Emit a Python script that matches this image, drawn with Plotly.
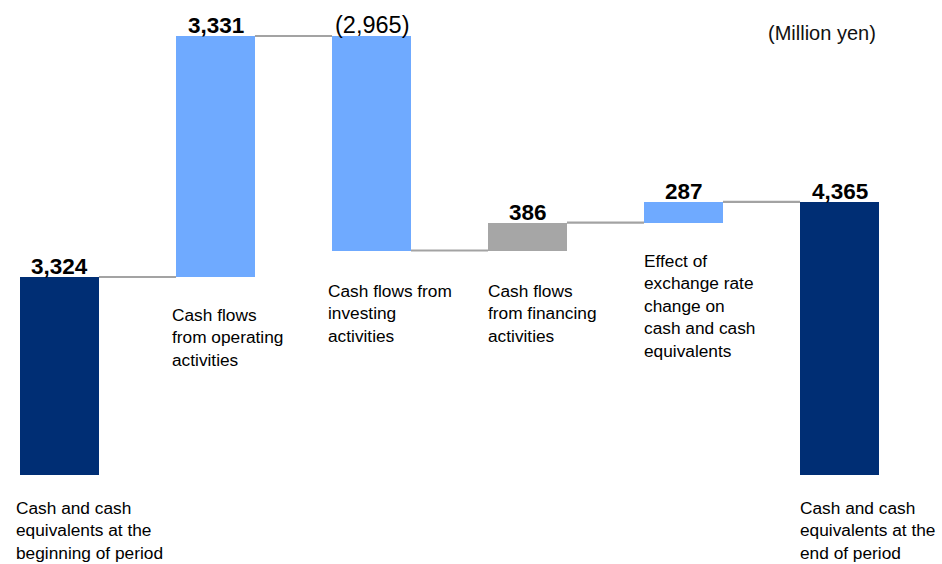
import plotly.graph_objects as go

categories = [
    "Cash and cash<br>equivalents at the<br>beginning of period",
    "Cash flows<br>from operating<br>activities",
    "Cash flows from<br>investing<br>activities",
    "Cash flows<br>from financing<br>activities",
    "Effect of<br>exchange rate<br>change on<br>cash and cash<br>equivalents",
    "Cash and cash<br>equivalents at the<br>end of period",
]
kinds = ["total", "delta", "delta", "delta", "delta", "total"]
values = [3324, 3331, -2965, 386, 287, 4365]
value_labels = ["3,324", "3,331", "(2,965)", "386", "287", "4,365"]
unit_label = "(Million yen)"

NAVY = "#002E74"
BLUE = "#6FAAFF"
GRAY = "#A6A6A6"
colors = [NAVY, BLUE, BLUE, GRAY, BLUE, NAVY]

# compute bases / tops
bases, heights, tops, levels = [], [], [], []
running = 0
for k, v in zip(kinds, values):
    if k == "total":
        bases.append(0)
        heights.append(v)
        running = v
        tops.append(v)
    else:
        bases.append(running)
        heights.append(v)
        tops.append(max(running, running + v))
        running += v
    levels.append(running)

xs = list(range(len(values)))
W = 0.506
H = 564
PLOT_H = 475
Y0, Y1 = 587, 587 + PLOT_H / 0.07235

fig = go.Figure()
fig.add_trace(go.Bar(
    x=xs, y=heights, base=bases, width=W,
    marker=dict(color=colors, line=dict(width=0)),
    hoverinfo="skip", showlegend=False,
))

# connectors
for i in range(len(values) - 1):
    lvl = levels[i]
    fig.add_trace(go.Scatter(
        x=[xs[i] + W / 2, xs[i + 1] - W / 2], y=[lvl, lvl],
        mode="lines", line=dict(color="#A3A3A3", width=2.2),
        hoverinfo="skip", showlegend=False,
    ))

annotations = []
for i, (t, lab) in enumerate(zip(tops, value_labels)):
    bold = not lab.startswith("(")
    annotations.append(dict(
        x=xs[i], y=t, xref="x", yref="y", text=f"<b>{lab}</b>" if bold else lab,
        showarrow=False, yanchor="bottom", xanchor="center", yshift=-4,
        font=dict(family="Liberation Sans, Arial", size=22.5 if bold else 23.5, color="black"),
    ))

# category label placement (pixel centres of text blocks) and x offsets
label_centre_px = [530, 337, 313, 313, 306, 530]
label_dx = [-4, -4, -4, 0, 0, 0]
for i, cat in enumerate(categories):
    annotations.append(dict(
        x=xs[i] - W / 2, xref="x", xanchor="left", xshift=label_dx[i] - 2,
        y=(PLOT_H - label_centre_px[i]) / PLOT_H, yref="paper", yanchor="middle",
        text=cat, align="left", showarrow=False,
        font=dict(family="Liberation Sans, Arial", size=17.3, color="black"),
    ))

X0 = -(59.5 / 156)
annotations.append(dict(
    x=X0 + 822 / 156, y=(PLOT_H - 33) / PLOT_H, xref="x", yref="paper", text=unit_label,
    showarrow=False, xanchor="center", yanchor="middle",
    font=dict(family="Liberation Sans, Arial", size=20, color="#111111"),
))

fig.update_layout(
    width=942, height=H,
    margin=dict(l=0, r=0, t=0, b=H - PLOT_H, pad=0),
    paper_bgcolor="white", plot_bgcolor="white",
    xaxis=dict(range=[X0, X0 + 942 / 156], visible=False, fixedrange=True),
    yaxis=dict(range=[Y0, Y1], visible=False, fixedrange=True),
    annotations=annotations,
    bargap=0,
)

fig.write_html("out.html")
